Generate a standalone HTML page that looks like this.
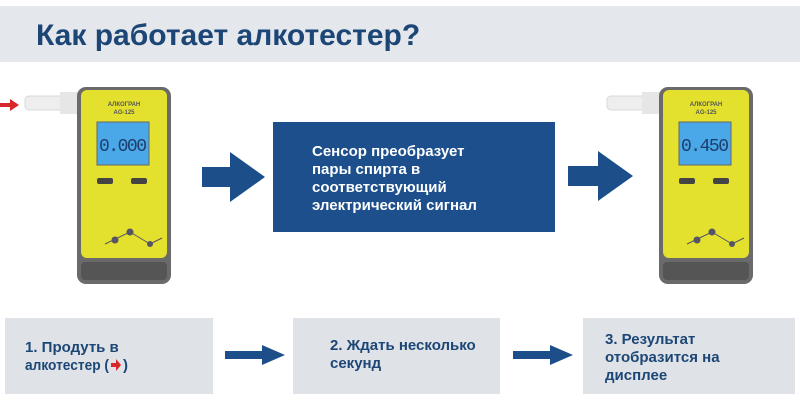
<!DOCTYPE html>
<html><head><meta charset="utf-8"><style>
body{margin:0;width:800px;height:410px;background:#fff;overflow:hidden;font-family:"Liberation Sans",sans-serif}
</style></head><body>
<svg width="800" height="410" xmlns="http://www.w3.org/2000/svg" font-family="Liberation Sans, sans-serif">
<rect x="0" y="6" width="800" height="56" fill="#e4e7eb"/>
<text x="36" y="45" font-size="30" font-weight="bold" fill="#1c4676">Как работает алкотестер?</text>

<!-- device 1 -->
<g id="dev">
<rect x="25" y="96" width="40" height="14" rx="4" fill="#eeeeee" stroke="#d8d8d8"/>
<rect x="60" y="92" width="18" height="22" fill="#e6e6e6"/>
<rect x="77" y="87" width="94" height="197" rx="9" fill="#6a6a6a"/>
<rect x="81" y="90" width="86" height="168" rx="6" fill="#e4e02e"/>
<text x="124" y="106" font-size="6" font-weight="bold" text-anchor="middle" fill="#555">АЛКОГРАН</text>
<text x="124" y="114" font-size="6" font-weight="bold" text-anchor="middle" fill="#555">AG-125</text>
<rect x="97" y="122" width="52" height="43" fill="#4aa8e8" stroke="#666"/>
<rect x="97" y="178" width="16" height="6" rx="2" fill="#444"/>
<rect x="131" y="178" width="16" height="6" rx="2" fill="#444"/>
<g fill="#556" stroke="#556"><circle cx="115" cy="240" r="3"/><circle cx="130" cy="232" r="3"/><circle cx="150" cy="244" r="2.5"/><line x1="105" y1="244" x2="130" y2="232"/><line x1="130" y1="232" x2="150" y2="244"/><line x1="150" y1="244" x2="162" y2="238"/></g>
<rect x="81" y="262" width="86" height="18" rx="4" fill="#555"/>
</g>
<text x="123" y="151" font-size="18" text-anchor="middle" fill="#1d3d6a" font-family="Liberation Mono, monospace" textLength="48">0.000</text>
<polygon points="0,103 10,103 10,99 19,105 10,111 10,107 0,107" fill="#d8262a"/>

<use href="#dev" x="582" y="0"/>
<text x="705" y="151" font-size="18" text-anchor="middle" fill="#1d3d6a" font-family="Liberation Mono, monospace" textLength="48">0.450</text>

<!-- arrows -->
<polygon points="202,167 230,167 230,152 265,177 230,202 230,187 202,187" fill="#1c4f8a"/>
<polygon points="568,166 598,166 598,151 633,176 598,201 598,186 568,186" fill="#1c4f8a"/>

<rect x="273" y="122" width="282" height="110" fill="#1d4f8c"/>
<g font-size="15" font-weight="bold" fill="#fff">
<text x="312" y="156">Сенсор преобразует</text>
<text x="312" y="174">пары спирта в</text>
<text x="312" y="192">соответствующий</text>
<text x="312" y="210">электрический сигнал</text>
</g>

<!-- bottom -->
<rect x="5" y="318" width="208" height="76" fill="#dfe2e6"/>
<rect x="293" y="318" width="207" height="76" fill="#dfe2e6"/>
<rect x="583" y="318" width="212" height="76" fill="#dfe2e6"/>
<polygon points="225,351 262,351 262,345 285,355 262,365 262,359 225,359" fill="#1c4f8a"/>
<polygon points="513,351 550,351 550,345 573,355 550,365 550,359 513,359" fill="#1c4f8a"/>
<g font-size="15" font-weight="bold" fill="#1c4676">
<text x="25" y="352">1. Продуть в</text>
<text x="25" y="370" textLength="84" lengthAdjust="spacingAndGlyphs">алкотестер (</text>
<text x="123" y="370">)</text>
<text x="330" y="350">2. Ждать несколько</text>
<text x="330" y="368">секунд</text>
<text x="605" y="344">3. Результат</text>
<text x="605" y="362">отобразится на</text>
<text x="605" y="380">дисплее</text>
</g>
<polygon points="111,363 116,363 116,359 121,365 116,371 116,367 111,367" fill="#d8262a"/>
</svg>
</body></html>
